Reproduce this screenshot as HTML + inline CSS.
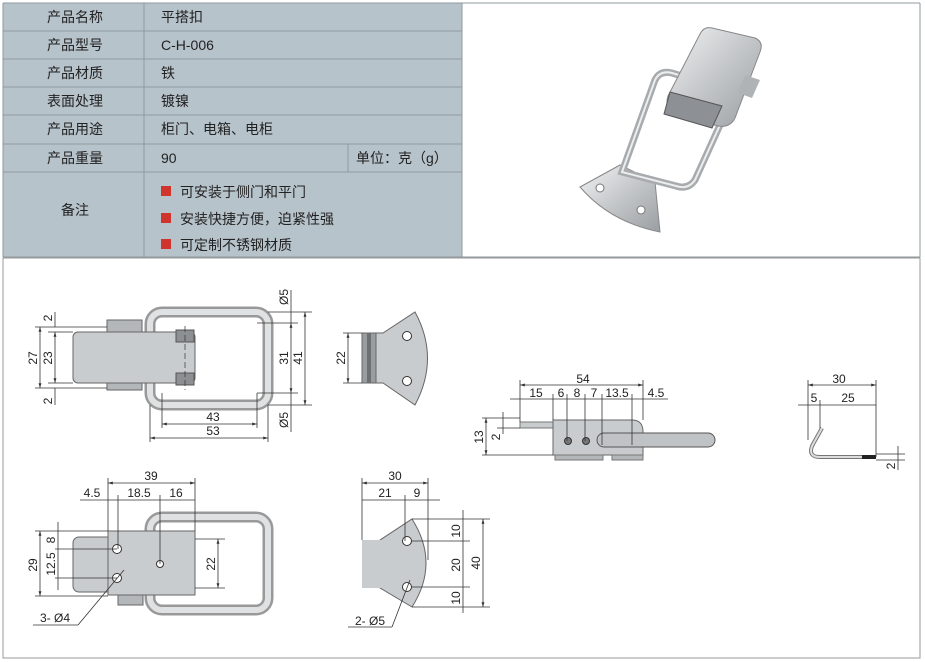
<!DOCTYPE html>
<html><head><meta charset="utf-8"><style>
html,body{margin:0;padding:0;background:#fff;width:925px;height:662px;overflow:hidden}
svg{display:block}
.t{font-family:"Liberation Sans","Noto Sans CJK SC",sans-serif;font-size:14px;fill:#222}
.d{font-family:"Liberation Sans",sans-serif;font-size:12px;fill:#222}
.l{stroke:#333;stroke-width:0.8;fill:none}
.m{fill:#c9ccce;stroke:#666;stroke-width:1}
</style></head><body>
<svg width="925" height="662" viewBox="0 0 925 662" xmlns="http://www.w3.org/2000/svg">
<defs>
<marker id="a" viewBox="0 0 10 10" refX="10" refY="5" markerWidth="6" markerHeight="6" orient="auto-start-reverse"><path d="M0,2 L10,5 L0,8z" fill="#333"/></marker>
<linearGradient id="g" x1="0" y1="0" x2="1" y2="1"><stop offset="0" stop-color="#f2f2f2"/><stop offset="0.5" stop-color="#c4c7ca"/><stop offset="1" stop-color="#9a9ea2"/></linearGradient>
</defs>
<rect x="3" y="3" width="459" height="254" fill="#b7c3cb"/>
<g stroke="#8f999f" stroke-width="1">
<line x1="3" y1="3" x2="920" y2="3"/><line x1="3" y1="3" x2="3" y2="257"/>
<line x1="920" y1="3" x2="920" y2="257"/><line x1="462" y1="3" x2="462" y2="257"/>
<line x1="144" y1="3" x2="144" y2="257"/>
<line x1="3" y1="31" x2="462" y2="31"/><line x1="3" y1="59" x2="462" y2="59"/>
<line x1="3" y1="87" x2="462" y2="87"/><line x1="3" y1="115" x2="462" y2="115"/>
<line x1="3" y1="144" x2="462" y2="144"/><line x1="3" y1="172" x2="462" y2="172"/>
<line x1="348" y1="144" x2="348" y2="172"/>
<line x1="3" y1="257" x2="920" y2="257"/>
</g>
<g class="t" text-anchor="middle">
<text x="75" y="22">产品名称</text><text x="75" y="50">产品型号</text><text x="75" y="78">产品材质</text>
<text x="75" y="106">表面处理</text><text x="75" y="134">产品用途</text><text x="75" y="163">产品重量</text>
<text x="75" y="215">备注</text></g>
<g class="t"><text x="161" y="22">平搭扣</text><text x="161" y="50">C-H-006</text><text x="161" y="78">铁</text>
<text x="161" y="106">镀镍</text><text x="161" y="134">柜门、电箱、电柜</text><text x="161" y="163">90</text>
<text x="356" y="163">单位：克（g）</text>
<text x="180" y="197">可安装于侧门和平门</text><text x="180" y="224">安装快捷方便，迫紧性强</text><text x="180" y="250">可定制不锈钢材质</text></g>
<rect x="161" y="186" width="10" height="10" fill="#d0342c"/><rect x="161" y="213" width="10" height="10" fill="#d0342c"/><rect x="161" y="239" width="10" height="10" fill="#d0342c"/>
<!-- photo -->
<g>
<path d="M580,187 L620,165 L655,182 L660,232 Q610,222 580,187z" fill="url(#g)" stroke="#888"/>
<circle cx="600" cy="188" r="4" fill="#fff" stroke="#777"/><circle cx="641" cy="210" r="4" fill="#fff" stroke="#777"/>
<path d="M622,172 L655,80 Q660,70 672,73 L735,92 L695,180 Q688,190 676,186z" fill="none" stroke="#a8abae" stroke-width="7"/>
<path d="M622,172 L655,80 Q660,70 672,73 L735,92 L695,180 Q688,190 676,186z" fill="none" stroke="#eceded" stroke-width="2"/>
<path d="M712,28 L755,38 Q764,42 760,52 L735,118 Q730,128 718,126 L676,114 Q664,108 668,96 L700,34 Q704,26 712,28z" fill="url(#g)" stroke="#888"/>
<path d="M670,92 L722,106 L712,128 L664,114z" fill="#8d9195" stroke="#555"/>
<path d="M745,75 L760,80 L752,98 L738,93z" fill="#b0b3b6"/>
</g>
<rect x="3" y="258" width="917" height="400" fill="none" stroke="#999"/>
<!-- view 1 -->
<rect x="150" y="312" width="118" height="93" rx="12" fill="none" stroke="#999" stroke-width="11"/>
<rect x="150" y="312" width="118" height="93" rx="12" fill="none" stroke="#e0e1e2" stroke-width="6"/>
<rect x="107" y="320" width="35" height="70" fill="#b4b7ba" stroke="#666"/>
<rect x="73" y="332" width="122" height="51" rx="5" class="m"/>
<rect x="176" y="330" width="18" height="12" fill="#8d9093" stroke="#555"/><rect x="176" y="373" width="18" height="12" fill="#8d9093" stroke="#555"/>
<line x1="185" y1="326" x2="185" y2="390" stroke="#333" stroke-dasharray="6,3" stroke-width="0.7"/>
<g class="l">
<line x1="35" y1="327" x2="107" y2="327"/><line x1="48" y1="332" x2="73" y2="332"/><line x1="48" y1="383" x2="73" y2="383"/><line x1="35" y1="388" x2="107" y2="388"/>
<line x1="40" y1="327" x2="40" y2="388" marker-start="url(#a)" marker-end="url(#a)"/>
<line x1="55" y1="332" x2="55" y2="383" marker-start="url(#a)" marker-end="url(#a)"/>
<line x1="55" y1="312" x2="55" y2="327"/><line x1="55" y1="388" x2="55" y2="405"/>
<line x1="150" y1="405" x2="150" y2="442"/><line x1="268" y1="405" x2="268" y2="442"/>
<line x1="162" y1="393" x2="162" y2="428"/><line x1="257" y1="393" x2="257" y2="428"/>
<line x1="162" y1="424" x2="257" y2="424" marker-start="url(#a)" marker-end="url(#a)"/>
<line x1="150" y1="438" x2="268" y2="438" marker-start="url(#a)" marker-end="url(#a)"/>
<line x1="268" y1="312" x2="312" y2="312"/><line x1="257" y1="323" x2="298" y2="323"/><line x1="257" y1="393" x2="298" y2="393"/><line x1="268" y1="405" x2="312" y2="405"/>
<line x1="291" y1="323" x2="291" y2="393" marker-start="url(#a)" marker-end="url(#a)"/>
<line x1="305" y1="312" x2="305" y2="405" marker-start="url(#a)" marker-end="url(#a)"/>
<line x1="291" y1="290" x2="291" y2="323"/><line x1="291" y1="393" x2="291" y2="432"/>
</g>
<g class="d" text-anchor="middle">
<text transform="translate(52,318) rotate(-90)">2</text><text transform="translate(52,401) rotate(-90)">2</text>
<text transform="translate(37,358) rotate(-90)">27</text><text transform="translate(52,358) rotate(-90)">23</text>
<text x="213" y="421">43</text><text x="213" y="435">53</text>
<text transform="translate(302,358) rotate(-90)">41</text><text transform="translate(288,358) rotate(-90)">31</text>
<text transform="translate(288,297) rotate(-90)">Ø5</text><text transform="translate(288,420) rotate(-90)">Ø5</text>
</g>
<rect x="362" y="333" width="14" height="50" fill="#9a9da0" stroke="#666"/>
<rect x="367" y="333" width="4" height="50" fill="#6d7073"/>
<path d="M376,333 L383,333 L415,312 Q440,358 415,405 L383,383 L376,383z" class="m"/>
<circle cx="407" cy="336" r="4.5" fill="#fff" stroke="#333"/><circle cx="407" cy="381" r="4.5" fill="#fff" stroke="#333"/>
<g class="l"><line x1="343" y1="333" x2="362" y2="333"/><line x1="343" y1="383" x2="362" y2="383"/>
<line x1="348" y1="333" x2="348" y2="383" marker-start="url(#a)" marker-end="url(#a)"/></g>
<text class="d" text-anchor="middle" transform="translate(345,358) rotate(-90)">22</text>
<!-- view 3 -->
<rect x="150" y="517" width="118" height="93" rx="12" fill="none" stroke="#999" stroke-width="11"/>
<rect x="150" y="517" width="118" height="93" rx="12" fill="none" stroke="#e0e1e2" stroke-width="6"/>
<rect x="73" y="537" width="122" height="55" rx="6" class="m"/>
<rect x="108" y="531" width="87" height="64" class="m"/>
<rect x="118" y="595" width="25" height="10" fill="#b4b7ba" stroke="#666"/>
<circle cx="117" cy="549" r="4.5" fill="#fff" stroke="#333"/><circle cx="117" cy="578" r="4.5" fill="#fff" stroke="#333"/><circle cx="160" cy="564" r="3.5" fill="#fff" stroke="#333"/>
<g class="l">
<line x1="108" y1="478" x2="108" y2="531"/><line x1="195" y1="478" x2="195" y2="531"/>
<line x1="108" y1="483" x2="195" y2="483" marker-start="url(#a)" marker-end="url(#a)"/>
<line x1="80" y1="500" x2="195" y2="500"/>
<line x1="118" y1="495" x2="118" y2="549"/><line x1="160" y1="495" x2="160" y2="564"/>
<line x1="35" y1="531" x2="108" y2="531"/><line x1="35" y1="596" x2="108" y2="596"/>
<line x1="40" y1="531" x2="40" y2="596" marker-start="url(#a)" marker-end="url(#a)"/>
<line x1="58" y1="522" x2="58" y2="590"/>
<line x1="55" y1="549" x2="117" y2="549"/><line x1="55" y1="578" x2="117" y2="578"/>
<line x1="195" y1="539" x2="225" y2="539"/><line x1="195" y1="588" x2="225" y2="588"/>
<line x1="218" y1="539" x2="218" y2="588" marker-start="url(#a)" marker-end="url(#a)"/>
<line x1="124" y1="570" x2="78" y2="625"/><line x1="78" y1="625" x2="33" y2="625"/>
</g>
<g class="d" text-anchor="middle">
<text x="151" y="480">39</text><text x="92" y="497">4.5</text><text x="139" y="497">18.5</text><text x="176" y="497">16</text>
<text transform="translate(37,565) rotate(-90)">29</text><text transform="translate(55,540) rotate(-90)">8</text><text transform="translate(55,564) rotate(-90)">12.5</text>
<text transform="translate(215,564) rotate(-90)">22</text>
<text x="55" y="622">3- Ø4</text></g>
<!-- view 4 -->
<path d="M380,540 L412,519 Q440,563 412,607 L380,588z" class="m"/>
<rect x="362" y="540" width="20" height="48" fill="#c9ccce"/>
<circle cx="407" cy="541" r="4.5" fill="#fff" stroke="#333"/><circle cx="407" cy="587" r="4.5" fill="#fff" stroke="#333"/>
<g class="l">
<line x1="362" y1="478" x2="362" y2="540"/><line x1="428" y1="478" x2="428" y2="560"/>
<line x1="362" y1="483" x2="428" y2="483" marker-start="url(#a)" marker-end="url(#a)"/>
<line x1="362" y1="500" x2="440" y2="500"/><line x1="405" y1="495" x2="405" y2="541"/>
<line x1="412" y1="519" x2="490" y2="519"/><line x1="412" y1="541" x2="470" y2="541"/><line x1="412" y1="587" x2="470" y2="587"/><line x1="412" y1="607" x2="490" y2="607"/>
<line x1="463" y1="510" x2="463" y2="613"/>
<line x1="483" y1="519" x2="483" y2="607" marker-start="url(#a)" marker-end="url(#a)"/>
<line x1="410" y1="580" x2="392" y2="627"/><line x1="392" y1="627" x2="348" y2="627"/>
</g>
<g class="d" text-anchor="middle">
<text x="395" y="480">30</text><text x="385" y="497">21</text><text x="417" y="497">9</text>
<text transform="translate(460,531) rotate(-90)">10</text><text transform="translate(460,565) rotate(-90)">20</text><text transform="translate(460,598) rotate(-90)">10</text>
<text transform="translate(480,563) rotate(-90)">40</text>
<text x="370" y="625">2- Ø5</text></g>
<!-- view 5 -->
<rect x="520" y="422" width="34" height="6" fill="#c9ccce" stroke="#777"/>
<path d="M553,420 L632,420 Q643,420 643,432 L643,455 L553,455z" class="m"/>
<rect x="555" y="455" width="48" height="5" fill="#b4b7ba" stroke="#777"/><rect x="612" y="455" width="31" height="5" fill="#b4b7ba" stroke="#777"/>
<rect x="597" y="433" width="118" height="14" rx="7" fill="#c0c3c6" stroke="#555"/>
<circle cx="568" cy="441" r="3.5" fill="#777" stroke="#333"/><circle cx="586" cy="441" r="3.5" fill="#777" stroke="#333"/>
<g class="l">
<line x1="520" y1="380" x2="520" y2="422"/><line x1="643" y1="380" x2="643" y2="420"/>
<line x1="520" y1="385" x2="643" y2="385" marker-start="url(#a)" marker-end="url(#a)"/>
<line x1="510" y1="399" x2="668" y2="399"/>
<line x1="553" y1="394" x2="553" y2="420"/><line x1="567" y1="394" x2="567" y2="441"/><line x1="585" y1="394" x2="585" y2="441"/><line x1="602" y1="394" x2="602" y2="445"/><line x1="632" y1="394" x2="632" y2="445"/>
<line x1="482" y1="418" x2="520" y2="418"/><line x1="497" y1="428" x2="520" y2="428"/><line x1="482" y1="455" x2="553" y2="455"/>
<line x1="486" y1="418" x2="486" y2="455" marker-start="url(#a)" marker-end="url(#a)"/>
<line x1="503" y1="412" x2="503" y2="434"/>
</g>
<g class="d" text-anchor="middle">
<text x="583" y="383">54</text><text x="536" y="397">15</text><text x="561" y="397">6</text><text x="577" y="397">8</text><text x="594" y="397">7</text><text x="617" y="397">13.5</text><text x="656" y="397">4.5</text>
<text transform="translate(483,437) rotate(-90)">13</text><text transform="translate(500,437) rotate(-90)">2</text></g>
<!-- view 6 -->
<path d="M822,428 L812,446 Q808,457 820,457 L876,457" fill="none" stroke="#777" stroke-width="4"/>
<path d="M822,428 L812,446 Q808,457 820,457 L876,457" fill="none" stroke="#ddd" stroke-width="2"/>
<rect x="862" y="455" width="14" height="4" fill="#222"/>
<g class="l">
<line x1="808" y1="380" x2="808" y2="440"/><line x1="876" y1="380" x2="876" y2="457"/>
<line x1="808" y1="385" x2="876" y2="385" marker-start="url(#a)" marker-end="url(#a)"/>
<line x1="798" y1="405" x2="876" y2="405"/><line x1="820" y1="400" x2="820" y2="428"/>
<line x1="876" y1="454" x2="905" y2="454"/><line x1="876" y1="460" x2="905" y2="460"/>
<line x1="898" y1="446" x2="898" y2="470"/></g>
<g class="d" text-anchor="middle"><text x="839" y="383">30</text><text x="814" y="402">5</text><text x="848" y="402">25</text>
<text transform="translate(895,466) rotate(-90)">2</text></g>
</svg>
</body></html>
